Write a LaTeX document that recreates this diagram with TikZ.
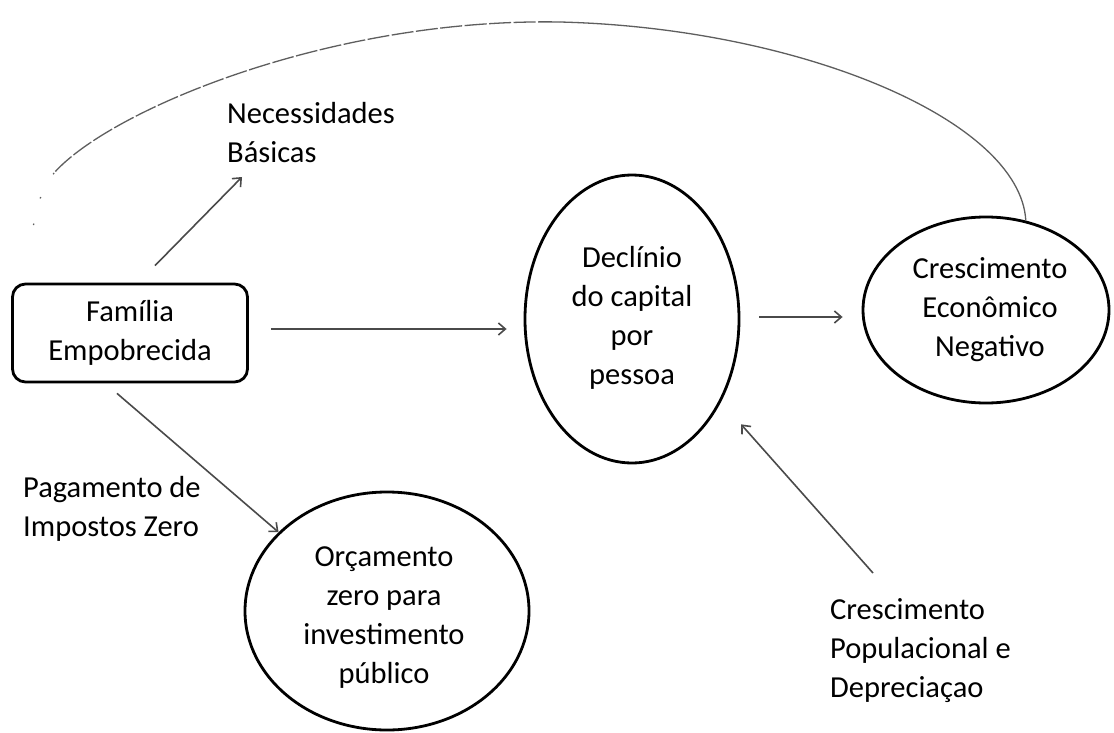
\documentclass[tikz,border=0pt]{standalone}
\usepackage{fontspec}
\setmainfont{Carlito}
\usetikzlibrary{arrows.meta,shapes.geometric,calc}
\definecolor{arrowgray}{HTML}{4A4A4A}
\definecolor{arcgray}{HTML}{5E5E5E}
\begin{document}
\begin{tikzpicture}[x=1pt,y=-1pt,
  txt/.style={font=\fontsize{30.5}{39}\selectfont, text=black, inner sep=0pt},
  oval/.style={ellipse, draw=black, line width=2.8pt, inner sep=0pt},
  famboxstyle/.style={draw=black, line width=2.8pt, rounded corners=13pt, inner sep=0pt, txt, align=center},
  arr/.style={draw=arrowgray, line width=1.6pt, -{Straight Barb[length=7pt,width=12pt,line width=1.6pt]}},
  arcline/.style={draw=arcgray, line width=1.3pt},
]
\useasboundingbox (0,0) rectangle (1114,733);
\fill[white] (0,0) rectangle (1114,733);

% nodes
\node[famboxstyle, minimum width=235pt, minimum height=98pt] (fam) at (130,333) {Família\\Empobrecida};

\node[oval, minimum width=214pt, minimum height=288pt] (dec) at (632,319) {};
\node[txt, align=center] (dect) at (632,318) {Declínio\\do capital\\por\\pessoa};

\node[oval, minimum width=246pt, minimum height=186pt] (cre) at (986,310) {};
\node[txt, align=center] (cret) at (990,310) {Crescimento\\Econômico\\Negativo};

\node[oval, minimum width=284pt, minimum height=238pt] (orc) at (387,611) {};
\node[txt, align=center] (orct) at (384,618) {Orçamento\\zero para\\investimento\\público};

\node[txt, align=left, anchor=west] (nec) at (227,133) {Necessidades\\Básicas};
\node[txt, align=left, anchor=west] (pag) at (23,509) {Pagamento de\\Impostos Zero};
\node[txt, align=left, anchor=west] (pop) at (830,651) {Crescimento\\Populacional e\\Depreciaçao};

% connectors
\draw[arr] ($(fam.north)+(25,-17)$) -- ($(nec.west)+(15,44)$);
\draw[arr] ($(fam.east)+(22,-4)$) -- ($(dec.west)+(-17,10)$);
\draw[arr] ($(dec.east)+(19,-2)$) -- ($(cre.west)+(-19,7)$);
\draw[arr] ($(fam.south)+(-13,10)$) -- (orc.144);
\draw[arr] ($(pop.west)+(43,-78)$) -- ($(dec.center)!1.24!(dec.-44)$);

% feedback arc
\coordinate (peak) at (560,22);
\coordinate (arcend) at (54,173);
\coordinate (arctail) at (32,232);
\draw[arcline] (cre.66) .. controls (1020,120) and (800,28) .. (peak);
\draw[arcline, dash pattern=on 22pt off 2.5pt] (peak) .. controls (330,18) and (110,110) .. (arcend);
\draw[arcline, dash pattern=on 1.5pt off 26pt] (arcend) .. controls (40,195) .. (arctail);
\end{tikzpicture}
\end{document}
